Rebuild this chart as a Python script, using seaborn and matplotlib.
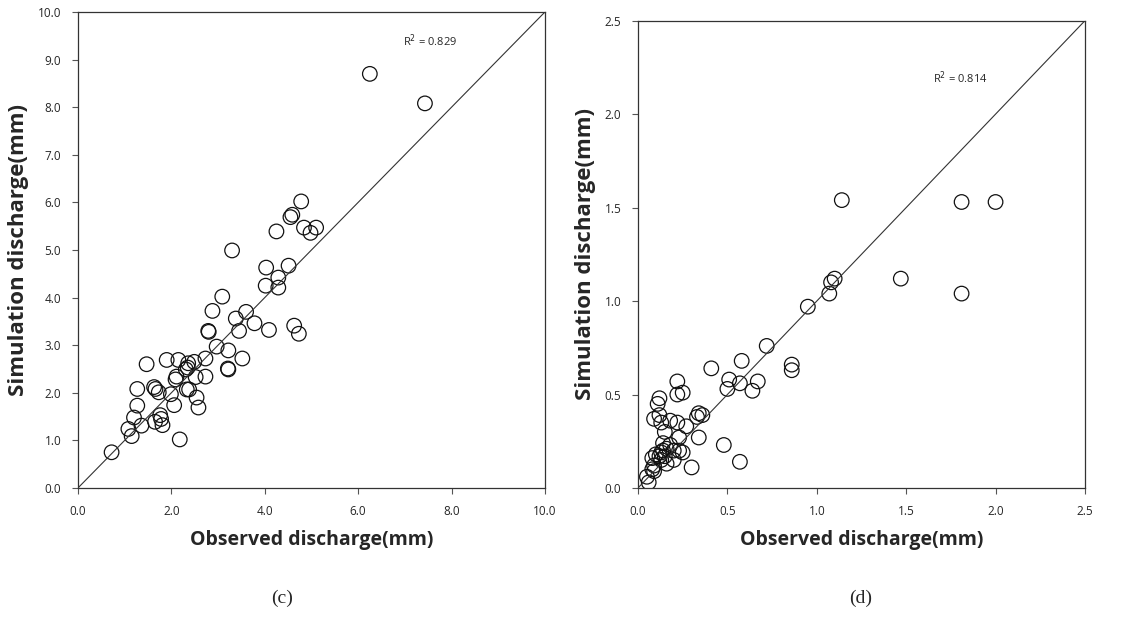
import matplotlib
matplotlib.use("Agg")
import matplotlib.pyplot as plt
import seaborn as sns
import pandas as pd

# (c) observed vs simulated discharge
left_obs = [0.72, 1.08, 1.15, 1.20, 1.27, 1.27, 1.36, 1.47, 1.63, 1.66, 1.65, 1.73, 1.76, 1.81, 1.78,
            1.90, 1.99, 2.06, 2.09, 2.11, 2.15, 2.18, 2.31, 2.36, 2.33, 2.38, 2.35, 2.49, 2.52, 2.54,
            2.58, 2.73, 2.73, 2.79, 2.80, 2.88, 2.97, 3.09, 3.22, 3.22, 3.21, 3.38, 3.45, 3.52, 3.60,
            3.78, 4.02, 4.09, 4.29, 4.63, 4.73, 6.25, 7.43, 4.78, 4.59, 4.55, 4.25, 4.84, 4.98, 5.10,
            3.30, 4.03, 4.51, 4.29]
left_sim = [0.75, 1.24, 1.09, 1.48, 1.73, 2.08, 1.31, 2.60, 2.12, 2.08, 1.39, 2.01, 1.53, 1.32, 1.45,
            2.69, 1.97, 1.74, 2.28, 2.34, 2.69, 1.02, 2.49, 2.62, 2.07, 2.07, 2.53, 2.65, 2.33, 1.90,
            1.69, 2.34, 2.72, 3.30, 3.28, 3.72, 2.97, 4.02, 2.89, 2.49, 2.51, 3.56, 3.30, 2.72, 3.70,
            3.46, 4.25, 3.32, 4.21, 3.41, 3.24, 8.70, 8.08, 6.02, 5.74, 5.69, 5.39, 5.47, 5.36, 5.47,
            4.99, 4.63, 4.67, 4.42]

# (d) observed vs simulated discharge
right_obs = [1.14, 1.81, 2.00, 1.10, 1.08, 1.07, 1.47, 1.81, 0.95, 0.72, 0.58, 0.86, 0.86, 0.41,
             0.67, 0.57, 0.64, 0.51, 0.50, 0.22, 0.22, 0.25, 0.12, 0.11, 0.09, 0.12, 0.13, 0.18,
             0.22, 0.27, 0.34, 0.33, 0.36, 0.34, 0.23, 0.15, 0.14, 0.18, 0.14, 0.20, 0.23, 0.25,
             0.10, 0.08, 0.12, 0.15, 0.16, 0.20, 0.48, 0.57, 0.30, 0.08, 0.09, 0.05, 0.06, 0.09,
             0.13, 0.16, 0.13]
right_sim = [1.54, 1.53, 1.53, 1.12, 1.10, 1.04, 1.12, 1.04, 0.97, 0.76, 0.68, 0.66, 0.63, 0.64,
             0.57, 0.56, 0.52, 0.58, 0.53, 0.57, 0.50, 0.51, 0.48, 0.45, 0.37, 0.39, 0.35, 0.36,
             0.35, 0.33, 0.40, 0.38, 0.39, 0.27, 0.27, 0.30, 0.24, 0.23, 0.20, 0.20, 0.20, 0.19,
             0.18, 0.16, 0.17, 0.17, 0.13, 0.15, 0.23, 0.14, 0.11, 0.10, 0.09, 0.06, 0.03, 0.12,
             0.19, 0.21, 0.15]

left_ticks = [0.0, 1.0, 2.0, 3.0, 4.0, 5.0, 6.0, 7.0, 8.0, 9.0, 10.0]
left_xticks = [0.0, 2.0, 4.0, 6.0, 8.0, 10.0]
right_ticks = [0.0, 0.5, 1.0, 1.5, 2.0, 2.5]
r2_labels = ["R$^2$ = 0.829", "R$^2$ = 0.814"]
captions = ["(c)", "(d)"]

sns.set_style("ticks")
plt.rcParams['font.family'] = ['Open Sans', 'DejaVu Sans']

fig = plt.figure(figsize=(11.25, 6.21), dpi=100)
ax1 = fig.add_axes([0.0693, 0.2142, 0.4151, 0.7665])
ax2 = fig.add_axes([0.5671, 0.2142, 0.3973, 0.7525])

panels = [
    (ax1, left_obs, left_sim, 10.0, left_xticks, left_ticks, (6.95, 9.3)),
    (ax2, right_obs, right_sim, 2.5, right_ticks, right_ticks, (1.65, 2.17)),
]

for i, (ax, xs, ys, lim, xt, yt, r2pos) in enumerate(panels):
    df = pd.DataFrame({"obs": xs, "sim": ys})
    sns.scatterplot(data=df, x="obs", y="sim", ax=ax, marker="o", s=110,
                    facecolor="none", edgecolor="#111111", linewidth=0.9)
    ax.plot([0, lim], [0, lim], color="#333333", linewidth=0.8)
    ax.set_xlim(0, lim)
    ax.set_ylim(0, lim)
    ax.set_xticks(xt)
    ax.set_yticks(yt)
    ax.set_xticklabels(["%.1f" % v for v in xt])
    ax.set_yticklabels(["%.1f" % v for v in yt])
    ax.tick_params(axis="both", labelsize=8.5, length=4, width=0.8, color="#555555")
    ax.tick_params(axis="x", pad=8)
    ax.tick_params(axis="y", pad=8)
    for sp in ax.spines.values():
        sp.set_visible(True)
        sp.set_color("#333333")
        sp.set_linewidth(0.9)
    ax.set_xlabel("Observed discharge(mm)", fontsize=14, fontweight="bold", labelpad=9)
    ax.set_ylabel("Simulation discharge(mm)", fontsize=16, fontweight="bold", labelpad=6)
    ax.text(r2pos[0], r2pos[1], r2_labels[i], fontsize=8)

fig.text(0.251, 0.037, captions[0], fontsize=14, family=['Liberation Serif', 'DejaVu Serif'],
         ha="center", va="center")
fig.text(0.765, 0.037, captions[1], fontsize=14, family=['Liberation Serif', 'DejaVu Serif'],
         ha="center", va="center")

fig.savefig("out.png", dpi=100)
